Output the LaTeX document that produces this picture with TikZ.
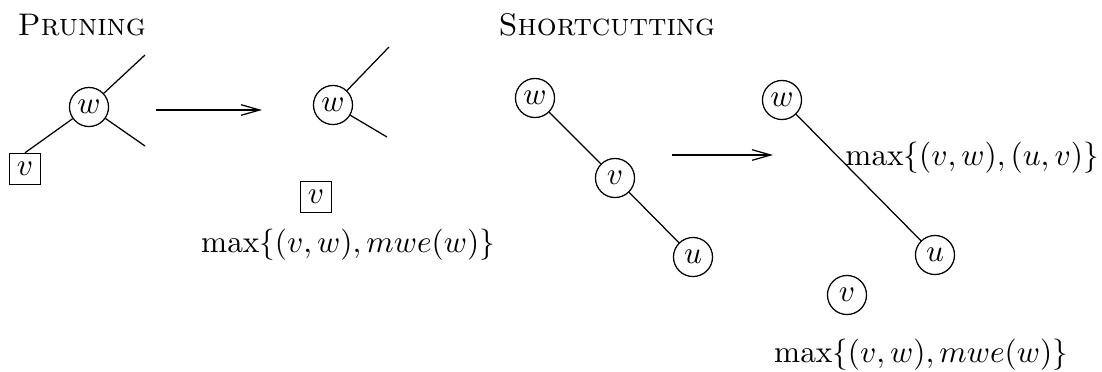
\documentclass[tikz,border=0pt]{standalone}
\usepackage{tikz}
\usetikzlibrary{positioning,arrows.meta}
\tikzset{
  node-vert/.style={draw,thin,circle,minimum size=12.5pt,inner sep=0pt},
  node-leaf/.style={draw,thin,rectangle,minimum size=10pt,inner sep=0pt},
  node-title/.style={anchor=base west,inner sep=0pt},
  node-weight/.style={anchor=base},
  edge/.style={thin},
  arrow-step/.style={-{Straight Barb[length=6pt,width=3.4pt]},thin},
}

\begin{document}
\begin{tikzpicture}[x=0.32pt,y=-0.32pt]
  \useasboundingbox (0,0) rectangle (1102,371);

  % pruning
  \node[node-title] (tp) at (17,35) {\textsc{Pruning}};
  \node[node-vert] (pw1) at (89,107) {$w$};
  \node[node-leaf] (pv1) at (25,169) {$v$};
  \coordinate (pa1) at (145,55);
  \coordinate (pb1) at (145,146);
  \draw[edge] (pw1) -- (pa1);
  \draw[edge] (pw1) -- (pb1);
  \draw[edge] (pw1) -- (pv1.north);

  \coordinate (ps) at (156,110);
  \coordinate (pe) at (262,110);
  \draw[arrow-step] (ps) -- (pe);

  \node[node-vert] (pw2) at (333,105) {$w$};
  \coordinate (pa2) at (389,47);
  \coordinate (pb2) at (387,137);
  \draw[edge] (pw2) -- (pa2);
  \draw[edge] (pw2) -- (pb2);
  \node[node-leaf] (pv2) at (316,197) {$v$};
  \node[node-weight] (pl2) at (348,252) {$\max\{(v,w),mwe(w)\}$};

  % shortcutting
  \node[node-title] (ts) at (498,35) {\textsc{Shortcutting}};
  \node[node-vert] (sw1) at (535,98) {$w$};
  \node[node-vert] (sv1) at (615,178) {$v$};
  \node[node-vert] (su1) at (693,257) {$u$};
  \draw[edge] (sw1) -- (sv1);
  \draw[edge] (sv1) -- (su1);

  \coordinate (ss) at (672,155);
  \coordinate (se) at (773,155);
  \draw[arrow-step] (ss) -- (se);

  \node[node-vert] (sw2) at (782,100) {$w$};
  \node[node-vert] (su2) at (935,255) {$u$};
  \node[node-vert] (sv2) at (847,295) {$v$};
  \draw[edge] (sw2) -- (su2);
  \node[node-weight] (sl1) at (972,165) {$\max\{(v,w),(u,v)\}$};
  \node[node-weight] (sl2) at (921,362) {$\max\{(v,w),mwe(w)\}$};
\end{tikzpicture}
\end{document}
